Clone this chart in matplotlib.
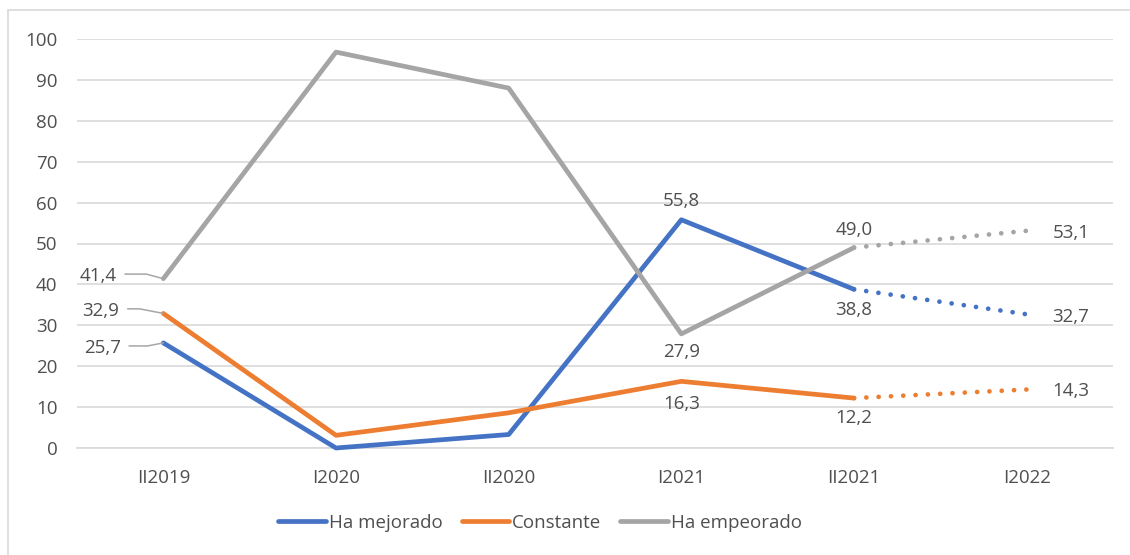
import matplotlib
matplotlib.use('Agg')
import matplotlib.pyplot as plt
from matplotlib.patches import Rectangle

plt.rcParams['font.family'] = ['Open Sans', 'DejaVu Sans']

periods = ['II2019', 'I2020', 'II2020', 'I2021', 'II2021', 'I2022']
mejorado = [25.7, 0.0, 3.3, 55.8, 38.8, 32.7]
constante = [32.9, 3.1, 8.6, 16.3, 12.2, 14.3]
empeorado = [41.4, 96.8, 88.0, 27.9, 49.0, 53.1]

# which points get a label, and where (offset in points from the marker)
label_idx = [0, 3, 4, 5]
offsets = {
    'Ha mejorado': [(-44, -3.5), (0, 0), (0, 0), (0, 13.5), (0, -15), (32, -2)],
    'Constante': [(-45, 2), (0, 0), (0, 0), (0, -16), (0, -14.5), (32, -1)],
    'Ha empeorado': [(-47, 2), (0, 0), (0, 0), (0, -13), (0, 12.7), (32, -1.5)],
}
# slope of the leader line close to the first point
leader_angle = {'Ha mejorado': 11, 'Constante': -11, 'Ha empeorado': -15}

colors = {'Ha mejorado': '#4472C4', 'Constante': '#ED7D31', 'Ha empeorado': '#A5A5A5'}
series = {'Ha mejorado': mejorado, 'Constante': constante, 'Ha empeorado': empeorado}
txt_color = '#4F4F4F'
fs = 13.5

fig = plt.figure(figsize=(11.3, 5.55), dpi=100)
ax = fig.add_axes([77 / 1130, 1 - 448 / 555, (1113 - 77) / 1130, (448 - 39) / 555])

# chart frame (left / top edge visible in the source)
fig.patches.append(Rectangle((7.5 / 1130, -0.05), 1.2, 1.05 - 10 / 555,
                             transform=fig.transFigure, fill=False,
                             edgecolor='#D9D9D9', linewidth=1.2))

x = list(range(len(periods)))
for name, vals in series.items():
    c = colors[name]
    ax.plot(x[:5], vals[:5], color=c, linewidth=3.4, solid_capstyle='round',
            solid_joinstyle='round', clip_on=False, label=name, zorder=3)
    ax.plot(x[4:], vals[4:], color=c, linewidth=3.4, linestyle=(0, (0.01, 2.6)),
            dash_capstyle='round', clip_on=False, zorder=3)
    for i in label_idx:
        dx, dy = offsets[name][i]
        s = ('%.1f' % vals[i]).replace('.', ',')
        if i == 0:
            ax.annotate(s, (x[i], vals[i]), xytext=(dx, dy), textcoords='offset points',
                        ha='center', va='center', fontsize=fs, color=txt_color,
                        arrowprops=dict(arrowstyle='-', color='#A6A6A6', lw=1.1,
                                        shrinkA=4, shrinkB=0, relpos=(1, 0.6),
                                        connectionstyle='angle,angleA=0,angleB=%d,rad=0'
                                        % leader_angle[name]))
        else:
            ax.annotate(s, (x[i], vals[i]), xytext=(dx, dy), textcoords='offset points',
                        ha='center', va='center', fontsize=fs, color=txt_color)

ax.set_xlim(-0.5, 5.5)
ax.set_ylim(0, 100)
ax.set_yticks(range(0, 101, 10))
ax.set_xticks(x)
ax.set_xticklabels(periods)
ax.grid(axis='y', color='#D9D9D9', linewidth=1.2)
ax.set_axisbelow(True)
for sp in ['top', 'right', 'left']:
    ax.spines[sp].set_visible(False)
ax.spines['bottom'].set_color('#D9D9D9')
ax.spines['bottom'].set_linewidth(1.2)
ax.tick_params(length=0, labelsize=fs, labelcolor=txt_color)
ax.tick_params(axis='y', pad=14)
ax.tick_params(axis='x', pad=15)

ax.legend(loc='center', bbox_to_anchor=(0.447, -0.183), ncol=3, frameon=False,
          fontsize=fs, labelcolor=txt_color, handlelength=2.55, handletextpad=0.15,
          columnspacing=1.0)

fig.savefig('out.png', dpi=100)
